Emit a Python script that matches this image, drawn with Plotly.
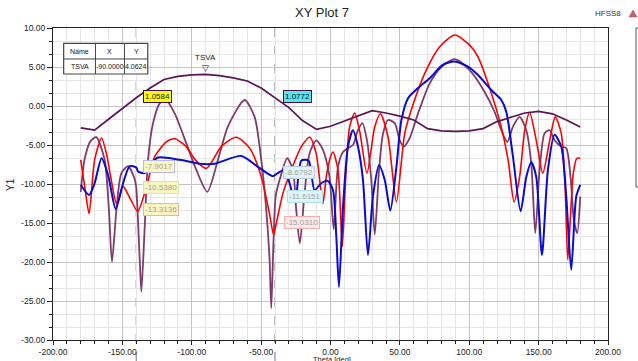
import plotly.graph_objects as go

# ---------------- data ----------------
tsva_x = [-180, -170, -160, -150, -140, -130, -120, -110, -100, -90, -80, -70, -60, -50, -40, -30, -20,
          -10, 0, 10, 20, 30, 40, 50, 60, 70, 80, 90, 100, 110, 120, 130, 140, 150, 160, 170, 180]
tsva_y = [-2.8, -3.1, -1.7, -0.3, 1.06, 2.3, 3.4, 3.8, 4.0, 4.06, 3.9, 3.6, 3.2, 2.3, 1.08, -0.2, -1.9,
          -3.0, -2.6, -1.9, -1.2, -0.6, -0.9, -1.3, -1.8, -2.9, -3.2, -3.25, -3.2, -2.9, -2.0, -1.4, -0.9,
          -0.7, -1.0, -1.8, -2.7]

red_x = [-180, -177, -174, -170, -165, -161.5, -158, -154.3, -152, -149.5, -144, -139, -132.7, -126.7,
         -118.3, -112.3, -104, -97, -89.5, -78.7, -68, -58.3, -50, -44, -41, -39, -34.3, -28.3, -21, -15,
         -10.3, -5.5, -3, 0, 1.8, 5.4, 8.5, 11, 13.8, 17.4, 21, 26.3, 31.9, 36, 41.5, 47.5, 53.5, 59.5,
         69, 78.7, 89.5, 100.3, 106.3, 116, 123, 128, 132.3, 136.3, 140, 143.5, 148.3, 153, 158, 162,
         166.3, 169, 171, 173, 175, 177.5, 180]
red_y = [-6.9, -10.5, -13.8, -6.9, -4.1, -6.1, -9.5, -12.5, -11.5, -10.3, -12.0, -13.5, -10.4, -6.5,
         -4.6, -4.2, -5.2, -7.0, -8.0, -5.2, -4.0, -5.4, -9.0, -13.8, -16.5, -15.0, -11.2, -8.2, -5.2, -4.0,
         -6.1, -12.5, -9.0, -6.5, -5.9, -8.2, -18.0, -9.0, -2.65, -0.9, -3.2, -8.6, -2.65, -1.0, -4.0, -12.3,
         -3.5, 0.2, 4.6, 7.6, 9.1, 7.8, 6.3, 1.6, -2.65, -6.9, -12.3, -9.1, -3.1, -0.8, -4.4, -8.6, -4.4,
         -1.4, -3.5, -10.0, -19.7, -14.0, -8.6, -6.7, -6.7]

blue_x = [-180, -174, -170, -165, -160.3, -154.8, -149.5, -144.7, -140, -138.7, -134, -129, -124.3,
          -108.7, -94.3, -83.5, -64.3, -52.3, -41.5, -38, -33, -29.5, -25.4, -21, -15.8, -11.5, -6.7, -2,
          1.8, 4.2, 6.1, 9, 12.6, 16.2, 19.8, 23.4, 27, 30.6, 35, 39.1, 43.1, 47.5, 51.1, 55.9, 63.1, 71.5,
          81.1, 89.5, 99.1, 106.3, 115.9, 123.1, 126.7, 131.5, 137, 141.1, 144.7, 148.3, 152.4, 156.7,
          161.5, 166.3, 169.9, 173.5, 177.1, 180]
blue_y = [-10.1, -11.4, -9.9, -6.7, -8.85, -13.2, -9.9, -7.7, -7.9, -8.4, -8.6, -7.35, -6.6,
          -6.9, -7.4, -7.4, -6.4, -7.8, -9.0, -8.6, -8.2, -9.9, -12.3, -7.0, -7.0, -10.8, -9.9, -9.6,
          -10.8, -16.8, -23.2, -13.0, -5.2, -3.1, -5.2, -9.5, -19.1, -11.6, -7.6, -9.5, -13.4, -7.8, -1.8,
          1.0, 2.3, 3.56, 5.3, 5.7, 5.05, 3.97, 2.05, 0.77, -0.74, -6.5, -13.5, -9.1, -7.2, -9.1, -19.1,
          -8.2, -3.7, -5.2, -11.6, -21.0, -11.6, -10.1]

brown_x = [-180, -177.3, -173, -168.8, -162.8, -159.7, -157.5, -154.3, -150.7, -145.9, -141.1, -140,
           -137.5, -136.3, -133.9, -131.5, -127.9, -123.1, -118.8, -112.3, -103.9, -96.7, -88.8, -81.1,
           -73.9, -61.9, -54.7, -49.9, -46.3, -43.9, -42.7, -41.2, -39.5, -36.7, -31.2, -27.1, -24.7,
           -22.1, -18.7, -15.1, -10.3, -5.5, -0.7, 2.3, 5.4, 9, 12.6, 16.2, 19.8, 22.9, 26.3, 29.4, 31.9,
           35, 37.9, 41.5, 46.3, 49.9, 52.8, 57.1, 63.1, 71.5, 79.9, 89.5, 100.3, 111.1, 118.3, 123.1,
           127.4, 131.5, 136.3, 141.1, 144.7, 147.6, 150.7, 154.3, 157.9, 161.5, 166.3, 169.9, 173, 175.4,
           177.8, 180]
brown_y = [-11.0, -6.9, -4.5, -4.0, -6.9, -13.3, -20.0, -13.3, -8.6, -7.7, -9.4, -10.5,
           -19.7, -23.8, -15.5, -6.9, -2.2, 0.34, 0.77, -0.94, -4.8, -8.2, -11.0, -6.9,
           -2.6, 0.77, -1.4, -6.9, -13.3, -19.7, -25.9, -18.0, -11.6, -9.5, -6.7, -8.2, -13.3,
           -17.6, -11.2, -6.1, -4.4, -5.6, -9.1, -15.8, -7.8, -5.9, -5.4, -5.0, -3.1, -2.2, -4.4, -9.5, -16.5,
           -8.2, -3.5, -1.8, -2.2, -4.4, -5.2, -4.1, -0.94, 2.9, 5.0, 6.0, 4.6, 1.8, -0.77, -3.1,
           -4.6, -2.65, -1.4, -3.1, -7.4, -16.3, -8.2, -3.5, -3.1, -4.4, -5.2, -5.4, -9.1, -14.6,
           -16.3, -11.6]

x_ticks = [-200, -150, -100, -50, 0, 50, 100, 150, 200]
y_ticks = [-30, -25, -20, -15, -10, -5, 0, 5, 10]

marker_x = [-140, -40]
labels_m1 = ["1.0584", "-7.9017", "-10.5380", "-13.3136"]
labels_m2 = ["1.0772", "-8.6792", "-11.6151", "-15.0310"]
table_header = ["Name", "X", "Y"]
table_row = ["TSVA", "-90.0000", "4.0624"]

# ---------------- figure ----------------
W, H = 638, 361
L, R, T, B = 53, 30, 28, 21
pw, ph = W - L - R, H - T - B


def px_x(p):
    return (p - L) / pw


def px_y(p):
    return (H - B - p) / ph


fig = go.Figure()
fig.add_trace(go.Scatter(x=brown_x, y=brown_y, mode="lines",
                         line=dict(color="#7d3c6b", width=1.8, shape="spline", smoothing=0.7)))
fig.add_trace(go.Scatter(x=red_x, y=red_y, mode="lines",
                         line=dict(color="#ff0000", width=1.6, shape="spline", smoothing=0.7)))
fig.add_trace(go.Scatter(x=blue_x, y=blue_y, mode="lines",
                         line=dict(color="#0a0ad0", width=2, shape="spline", smoothing=0.7)))
fig.add_trace(go.Scatter(x=tsva_x, y=tsva_y, mode="lines",
                         line=dict(color="#5a1458", width=1.7)))

shapes = []
for mx in marker_x:
    shapes.append(dict(type="line", xref="x", yref="paper", x0=mx, x1=mx, y0=px_y(361), y1=1,
                       line=dict(color="#8c8c8c", width=1.2, dash="dash"), layer="below"))
# partial legend box at right
shapes.append(dict(type="rect", xref="paper", yref="paper", x0=px_x(636), x1=px_x(700),
                   y0=px_y(187), y1=1.0, line=dict(color="#555555", width=1),
                   fillcolor="rgba(0,0,0,0)"))
# small red triangle next to HFSS8
tri = "M {:.5f} {:.5f} L {:.5f} {:.5f} L {:.5f} {:.5f} Z".format(
    px_x(629), px_y(17), px_x(637), px_y(17), px_x(633), px_y(10))
shapes.append(dict(type="path", xref="paper", yref="paper", path=tri,
                   fillcolor="#c86464", line=dict(color="#a04848", width=0.5)))

annotations = []
# data table
tx = [-192.3, -169.4, -148.5, -131.7]
ty = [8.04, 6.03, 4.1]
shapes.append(dict(type="rect", xref="x", yref="y", x0=tx[0], x1=tx[3], y0=ty[2], y1=ty[0],
                   line=dict(color="#444444", width=1.2), fillcolor="white"))
shapes.append(dict(type="line", xref="x", yref="y", x0=tx[0], x1=tx[3], y0=ty[1], y1=ty[1],
                   line=dict(color="#444444", width=1)))
for cx in tx[1:3]:
    shapes.append(dict(type="line", xref="x", yref="y", x0=cx, x1=cx, y0=ty[2], y1=ty[0],
                       line=dict(color="#444444", width=1)))
for i in range(3):
    cxm = (tx[i] + tx[i + 1]) / 2
    annotations.append(dict(x=cxm, y=(ty[0] + ty[1]) / 2, xref="x", yref="y", text=table_header[i],
                            showarrow=False, font=dict(size=7, color="#111111")))
    annotations.append(dict(x=cxm, y=(ty[1] + ty[2]) / 2, xref="x", yref="y", text=table_row[i],
                            showarrow=False, font=dict(size=7, color="#111111")))

# TSVA marker
annotations.append(dict(x=-90, y=4.0624, xref="x", yref="y", text="▽", showarrow=False,
                        yanchor="bottom", yshift=-1, font=dict(size=9, color="#222222")))
annotations.append(dict(x=-90, y=4.0624, xref="x", yref="y", text="TSVA", showarrow=False,
                        yanchor="bottom", yshift=10, font=dict(size=8, color="#222222")))

# marker value labels
lab_pos1 = [(-135.4, 1.28), (-135.4, -7.8), (-135.4, -10.4), (-135.4, -13.3)]
lab_pos2 = [(-34.4, 1.2), (-34.4, -8.5), (-31.6, -11.6), (-33.7, -14.9)]
styles1 = [("#ffff00", "#4a0a48", "#111111"), ("#fbf7c0", "#b8b8f0", "#a0a0a0"),
           ("#fbf7c0", "#e8e0a0", "#a0a0a0"), ("#fbf3c0", "#f0b0b0", "#a0a0a0")]
styles2 = [("#55e6ee", "#4a0a48", "#111111"), ("#dff4f8", "#b8c8f0", "#a0a0a0"),
           ("#dff4f8", "#b0e0f0", "#a0a0a0"), ("#fbe8e8", "#f0b0b0", "#a0a0a0")]
for labs, poss, sty in [(labels_m1, lab_pos1, styles1), (labels_m2, lab_pos2, styles2)]:
    for t, (px, py), (bg, bc, fc) in zip(labs, poss, sty):
        annotations.append(dict(x=px, y=py, xref="x", yref="y", text=t, showarrow=False,
                                xanchor="left", bgcolor=bg, bordercolor=bc, borderwidth=1, borderpad=1,
                                font=dict(size=8, color=fc)))

annotations.append(dict(x=px_x(623), y=px_y(14), xref="paper", yref="paper", xanchor="right",
                        yanchor="middle", text="HFSS8", showarrow=False,
                        font=dict(size=8, color="#333333")))
annotations.append(dict(x=px_x(10), y=px_y(185), xref="paper", yref="paper", text="Y1", textangle=-90,
                        xanchor="center", yanchor="middle",
                        showarrow=False, font=dict(size=10, color="#222222")))
annotations.append(dict(x=px_x(332), y=px_y(353), xref="paper", yref="paper", text="Theta [deg]",
                        yanchor="top", showarrow=False, font=dict(size=7.5, color="#222222")))

fig.update_layout(
    width=W, height=H,
    margin=dict(l=L, r=R, t=T, b=B, autoexpand=False),
    paper_bgcolor="white", plot_bgcolor="white",
    showlegend=False,
    title=dict(text="XY Plot 7", x=322 / W, xanchor="center", y=1 - 12 / H, yanchor="middle",
               font=dict(size=13, color="#222222")),
    font=dict(family="Liberation Sans, Arial", size=9, color="#222222"),
    shapes=shapes, annotations=annotations,
)
fig.update_xaxes(range=[-200, 200], tickvals=x_ticks, ticktext=[f"{v:.2f}" for v in x_ticks],
                 automargin=False,
                 showline=True, linecolor="#222222", linewidth=1.2, mirror=True,
                 ticks="outside", ticklen=4, tickcolor="#222222",
                 showgrid=True, gridcolor="#c4c4c4", gridwidth=1, zeroline=False,
                 minor=dict(dtick=10, tick0=0, showgrid=True, gridcolor="#e6e6e6",
                            ticks="outside", ticklen=3, tickcolor="#222222"),
                 tickfont=dict(size=8.5))
fig.update_yaxes(range=[-30, 10], tickvals=y_ticks, ticktext=[f"{v:.2f}" for v in y_ticks],
                 automargin=False,
                 showline=True, linecolor="#222222", linewidth=1.2, mirror=True,
                 ticks="outside", ticklen=5, tickcolor="#222222",
                 showgrid=True, gridcolor="#c4c4c4", gridwidth=1, zeroline=False,
                 minor=dict(dtick=5 / 3, tick0=0, showgrid=True, gridcolor="#e6e6e6",
                            ticks="outside", ticklen=3, tickcolor="#222222"),
                 tickfont=dict(size=8.5))

fig.write_html("out.html")
